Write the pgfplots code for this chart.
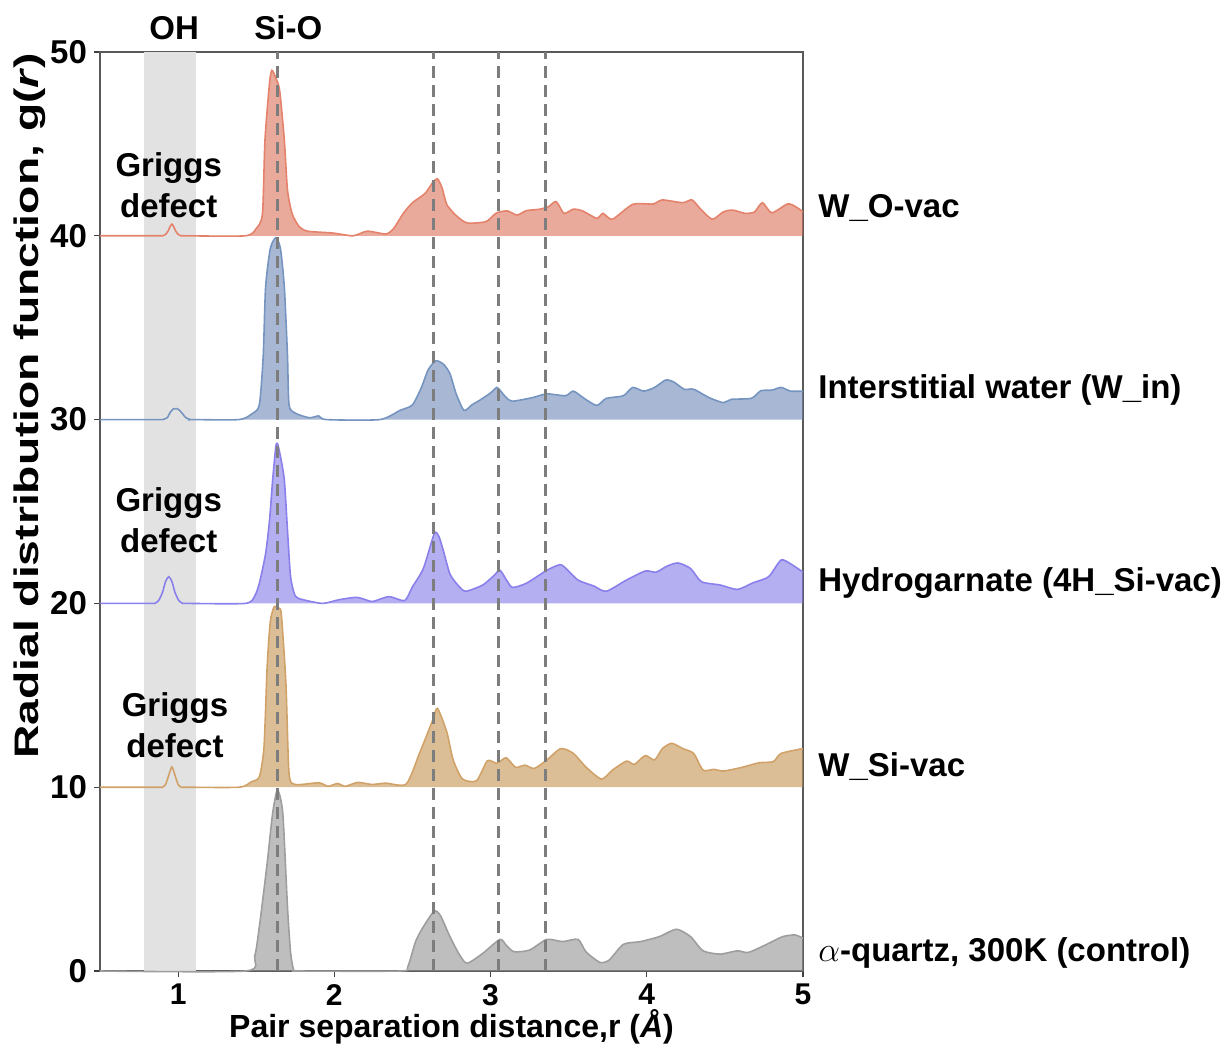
\documentclass[border=0pt]{standalone}
\usepackage{fontspec}
\setmainfont{Liberation Sans}
\usepackage{pgfplots}
\usepackage{pgfplotstable}
\pgfplotsset{compat=1.18}
\usepgfplotslibrary{fillbetween}

\definecolor{cRed}{RGB}{218,113,88}
\definecolor{cRedL}{RGB}{228,130,108}
\definecolor{cBlue}{RGB}{110,137,183}
\definecolor{cBlueL}{RGB}{118,148,192}
\definecolor{cPurp}{RGB}{130,122,230}
\definecolor{cPurpL}{RGB}{138,128,236}
\definecolor{cTan}{RGB}{197,147,80}
\definecolor{cTanL}{RGB}{208,162,105}
\definecolor{cGray}{RGB}{147,147,147}
\definecolor{cGrayL}{RGB}{158,158,158}
\definecolor{bandgray}{RGB}{226,226,226}
\definecolor{dashgray}{RGB}{125,125,125}

% W_O-vac, baseline 40
\pgfplotstableread{
x y
0.5 40
0.88 40
0.90 40
0.92 40.08
0.935 40.25
0.95 40.52
0.96 40.63
0.97 40.52
0.985 40.25
1.00 40.08
1.02 40
1.04 40
1.43 40
1.50 40.4
1.54 41.2
1.556 45.2
1.585 48.3
1.60 49.0
1.625 48.6
1.65 47.9
1.68 45.2
1.70 42.5
1.73 41.2
1.775 40.5
1.83 40.25
1.99 40.15
2.12 40.0
2.21 40.25
2.33 40.1
2.38 40.4
2.44 41.2
2.50 41.8
2.58 42.3
2.63 42.9
2.66 43.1
2.69 42.6
2.72 41.7
2.78 41.1
2.85 40.7
2.97 40.77
3.03 41.2
3.06 41.3
3.11 41.35
3.17 41.13
3.23 41.37
3.31 41.44
3.37 41.58
3.42 41.86
3.47 41.22
3.53 41.45
3.59 41.35
3.68 40.95
3.72 41.22
3.78 40.9
3.91 41.71
4.04 41.73
4.10 41.95
4.23 41.8
4.29 41.95
4.35 41.4
4.42 40.9
4.49 41.3
4.55 41.4
4.63 41.22
4.69 41.3
4.74 41.8
4.80 41.25
4.90 41.73
4.95 41.6
5.00 41.3
}\tabRed

% Interstitial water (W_in), baseline 30
\pgfplotstableread{
x y
0.5 30
0.88 30
0.90 30
0.93 30.1
0.95 30.4
0.97 30.58
0.99 30.6
1.01 30.5
1.03 30.3
1.05 30.1
1.08 30
1.10 30
1.39 30
1.47 30.3
1.52 30.8
1.545 33.5
1.56 37.2
1.59 39.3
1.626 39.9
1.655 39.3
1.68 37.2
1.70 33.5
1.71 30.8
1.75 30.35
1.84 30.1
1.90 30.2
1.95 30
2.29 30
2.42 30.5
2.50 30.8
2.56 31.8
2.60 32.7
2.65 33.2
2.70 33.0
2.74 32.5
2.78 31.4
2.83 30.5
2.88 30.8
2.93 31.05
3.00 31.45
3.04 31.75
3.06 31.6
3.10 31.2
3.14 31.0
3.27 31.2
3.36 31.4
3.48 31.3
3.53 31.55
3.60 31.15
3.68 30.77
3.74 31.15
3.85 31.3
3.91 31.75
3.98 31.55
4.05 31.75
4.12 32.15
4.17 32.06
4.24 31.65
4.30 31.65
4.40 31.19
4.49 30.92
4.54 31.1
4.67 31.16
4.73 31.57
4.80 31.6
4.86 31.75
4.92 31.55
5.00 31.55
}\tabBlue

% Hydrogarnate (4H_Si-vac), baseline 20
\pgfplotstableread{
x y
0.5 20
0.83 20
0.85 20
0.875 20.15
0.90 20.6
0.92 21.2
0.94 21.45
0.96 21.2
0.98 20.6
1.005 20.15
1.03 20
1.05 20
1.43 20
1.49 20.4
1.52 21.1
1.56 22.7
1.585 24.5
1.605 26.7
1.625 28.5
1.636 28.7
1.655 28.0
1.68 26.7
1.70 24.0
1.72 21.45
1.75 20.4
1.80 20.2
1.925 20.0
2.03 20.2
2.14 20.33
2.20 20.2
2.245 20.1
2.35 20.37
2.45 20.15
2.50 20.9
2.57 21.9
2.64 23.8
2.67 23.63
2.70 22.8
2.74 21.6
2.79 21.0
2.84 20.66
2.95 21.0
3.02 21.5
3.06 21.8
3.10 21.3
3.14 20.87
3.23 21.1
3.36 21.8
3.44 22.1
3.47 22.0
3.56 21.27
3.66 20.95
3.74 20.66
3.87 21.27
3.99 21.76
4.06 21.7
4.13 22.03
4.20 22.2
4.28 21.9
4.35 21.18
4.47 21.0
4.58 20.76
4.68 21.12
4.78 21.45
4.86 22.36
4.93 22.1
5.00 21.7
}\tabPurp

% W_Si-vac, baseline 10
\pgfplotstableread{
x y
0.5 10
0.88 10
0.90 10
0.92 10.15
0.94 10.65
0.96 11.1
0.98 10.65
1.00 10.15
1.02 10
1.04 10
1.39 10
1.47 10.3
1.52 10.57
1.55 12.2
1.57 16.55
1.59 19.0
1.615 19.82
1.64 19.7
1.66 19.46
1.69 15.65
1.71 10.75
1.75 10.15
1.90 10.24
1.96 10.05
2.02 10.2
2.07 10.05
2.15 10.26
2.24 10.15
2.33 10.22
2.46 10.17
2.545 11.84
2.63 13.65
2.66 14.29
2.72 13.0
2.76 11.5
2.82 10.45
2.91 10.35
2.98 11.44
3.04 11.3
3.10 11.6
3.16 11.08
3.22 11.2
3.28 11.02
3.36 11.48
3.45 12.1
3.53 11.84
3.61 11.1
3.71 10.44
3.78 10.93
3.87 11.42
3.92 11.24
3.99 11.72
4.05 11.48
4.10 12.1
4.16 12.39
4.23 12.1
4.30 11.84
4.36 10.93
4.43 10.97
4.49 10.88
4.60 11.06
4.72 11.33
4.81 11.39
4.86 11.84
5.00 12.1
}\tabTan

% alpha-quartz 300K (control), baseline 0
\pgfplotstableread{
x y
0.5 0
1.43 0
1.49 0.8
1.52 2.41
1.57 5.86
1.605 8.58
1.636 9.85
1.67 8.58
1.70 3.5
1.72 1.0
1.74 0.05
1.77 0
2.42 0
2.47 0.23
2.52 1.6
2.57 2.41
2.64 3.26
2.68 3.0
2.74 1.87
2.80 0.9
2.85 0.42
2.95 0.96
3.06 1.72
3.10 1.4
3.15 1.05
3.25 1.14
3.36 1.72
3.46 1.6
3.56 1.72
3.61 1.05
3.70 0.47
3.76 0.6
3.85 1.45
3.96 1.6
4.08 1.87
4.19 2.27
4.28 1.87
4.36 1.1
4.47 0.92
4.58 1.1
4.65 1.01
4.77 1.46
4.87 1.87
4.95 1.96
5.00 1.78
}\tabGray

\begin{document}
\begin{tikzpicture}
\begin{axis}[
    scale only axis,
    width=351.5pt, height=459.5pt,
    xmin=0.5, xmax=5, ymin=0, ymax=50,
    xtick={1,2,3,4,5},
    ytick={0,10,20,30,40,50},
    tick align=outside,
    major tick length=3pt,
    xtick pos=bottom, ytick pos=left,
    axis line style={black!65, line width=0.6pt},
    tick style={black!75, line width=0.6pt},
    /pgf/number format/assume math mode=true,
    xticklabel style={font=\bfseries\fontsize{15}{18}\selectfont},
    yticklabel style={font=\bfseries\fontsize{16.5}{19}\selectfont},
    xlabel={Pair separation distance,r (\textit{Å})},
    xlabel style={font=\bfseries\fontsize{16}{19}\selectfont,
        at={(axis description cs:0.5,-0.061)}, anchor=center},
    ylabel={\scalebox{1.36}[1]{Radial distribution function, g(\textit{r})}},
    ylabel style={font=\bfseries\fontsize{17}{20}\selectfont,
        at={(axis description cs:-0.0996,0.615)}, anchor=center},
    clip=false,
]
% OH band
\fill[bandgray] (axis cs:0.78,0) rectangle (axis cs:1.115,50);

% baselines for the fills
\path[name path=b40] (axis cs:0.5,40) -- (axis cs:5,40);
\path[name path=b30] (axis cs:0.5,30) -- (axis cs:5,30);
\path[name path=b20] (axis cs:0.5,20) -- (axis cs:5,20);
\path[name path=b10] (axis cs:0.5,10) -- (axis cs:5,10);
\path[name path=b0] (axis cs:0.5,0) -- (axis cs:5,0);

\addplot[draw=none, name path=pRed, smooth, tension=0.4] table {\tabRed};
\addplot[fill=cRed, fill opacity=0.6, draw=none] fill between[of=pRed and b40];
\addplot[cRedL, line width=0.8pt, smooth, tension=0.4] table {\tabRed};

\addplot[draw=none, name path=pBlue, smooth, tension=0.4] table {\tabBlue};
\addplot[fill=cBlue, fill opacity=0.6, draw=none] fill between[of=pBlue and b30];
\addplot[cBlueL, line width=0.8pt, smooth, tension=0.4] table {\tabBlue};

\addplot[draw=none, name path=pPurp, smooth, tension=0.4] table {\tabPurp};
\addplot[fill=cPurp, fill opacity=0.6, draw=none] fill between[of=pPurp and b20];
\addplot[cPurpL, line width=0.8pt, smooth, tension=0.4] table {\tabPurp};

\addplot[draw=none, name path=pTan, smooth, tension=0.4] table {\tabTan};
\addplot[fill=cTan, fill opacity=0.6, draw=none] fill between[of=pTan and b10];
\addplot[cTanL, line width=0.8pt, smooth, tension=0.4] table {\tabTan};

\addplot[draw=none, name path=pGray, smooth, tension=0.4] table {\tabGray};
\addplot[fill=cGray, fill opacity=0.6, draw=none] fill between[of=pGray and b0];
\addplot[cGrayL, line width=0.8pt, smooth, tension=0.4] table {\tabGray};

% reference distances
\foreach \xv in {1.635,2.635,3.05,3.35}{
  \edef\tmp{\noexpand\draw[dashgray, line width=1.5pt, dash pattern=on 6pt off 3.5pt]
    (axis cs:\xv,0) -- (axis cs:\xv,50);}
  \tmp
}

% annotations
\node[font=\bfseries\fontsize{16.5}{19}\selectfont, anchor=base] at (axis cs:0.975,50.7) {OH};
\node[font=\bfseries\fontsize{16.5}{19}\selectfont, anchor=base] at (axis cs:1.705,50.7) {Si-O};

\node[font=\bfseries\fontsize{16.5}{20.5}\selectfont, align=center] at (axis cs:0.94,42.76) {Griggs\\defect};
\node[font=\bfseries\fontsize{16.5}{20.5}\selectfont, align=center] at (axis cs:0.94,24.54) {Griggs\\defect};
\node[font=\bfseries\fontsize{16.5}{20.5}\selectfont, align=center] at (axis cs:0.98,13.38) {Griggs\\defect};

\begin{scope}[every node/.style={anchor=west, inner sep=0pt, xshift=7.5pt,
    font=\bfseries\fontsize{16.5}{19}\selectfont}]
\node at (axis cs:5,41.5) {W\_O-vac};
\node at (axis cs:5,31.6) {Interstitial water (W\_in)};
\node at (axis cs:5,21.1) {Hydrogarnate (4H\_Si-vac)};
\node at (axis cs:5,11.15) {W\_Si-vac};
\node at (axis cs:5,0.98) {$\alpha$-quartz, 300K (control)};
\end{scope}
\end{axis}
\pgfresetboundingbox
\useasboundingbox ([xshift=-50pt,yshift=-40.5pt]current axis.south west)
    rectangle ([xshift=214pt,yshift=26pt]current axis.north east);
\end{tikzpicture}
\end{document}
